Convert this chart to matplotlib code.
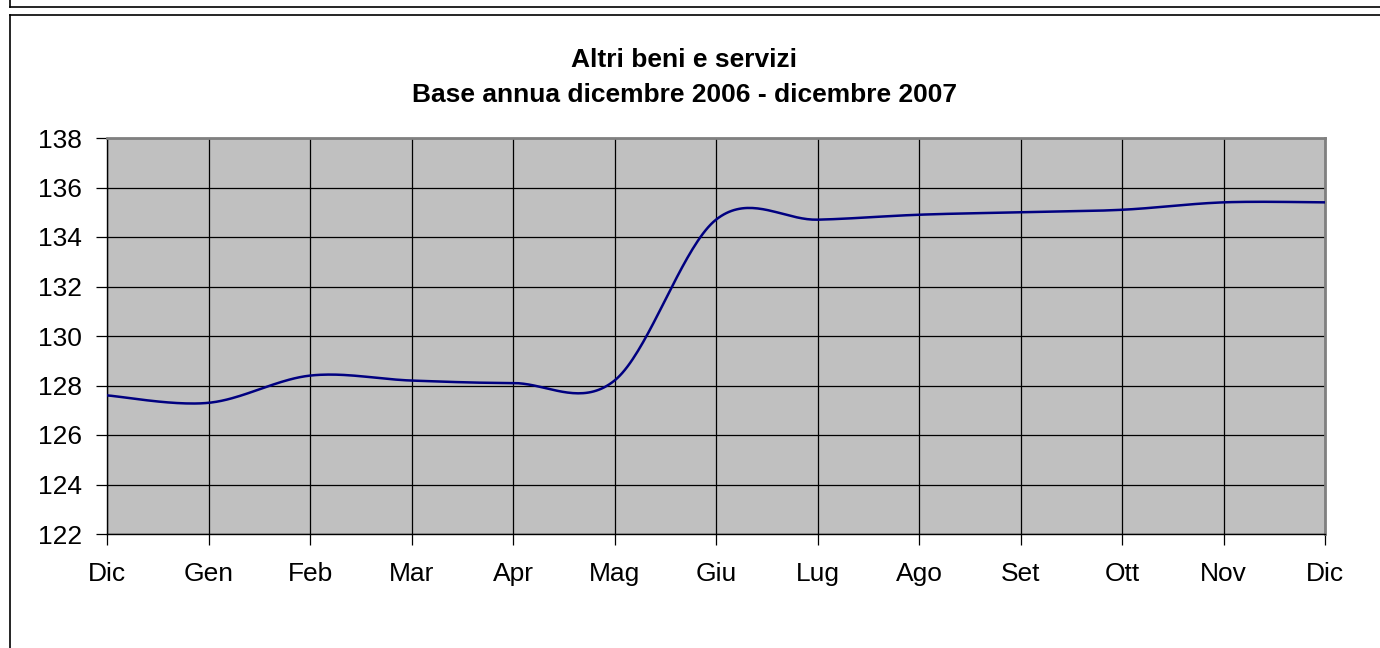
import matplotlib.pyplot as plt
import numpy as np
from matplotlib.lines import Line2D

plt.rcParams['font.family'] = ['Liberation Sans', 'DejaVu Sans']

# Altri beni e servizi - indici mensili, base dicembre 2006
mesi = ['Dic', 'Gen', 'Feb', 'Mar', 'Apr', 'Mag', 'Giu', 'Lug', 'Ago', 'Set', 'Ott', 'Nov', 'Dic']
indice = [127.6, 127.3, 128.4, 128.2, 128.1, 128.2, 134.7, 134.7, 134.9, 135.0, 135.1, 135.4, 135.4]
y_ticks = [122, 124, 126, 128, 130, 132, 134, 136, 138]


def smooth_line(xs, ys, n=40):
    # catmull-rom, like the "smoothed line" option of spreadsheet charts
    xs = np.asarray(xs, float)
    ys = np.asarray(ys, float)
    px = np.concatenate([[xs[0]], xs, [xs[-1]]])
    py = np.concatenate([[ys[0]], ys, [ys[-1]]])
    out_x, out_y = [], []
    for i in range(1, len(px) - 2):
        t = np.linspace(0, 1, n)
        mx0 = (px[i + 1] - px[i - 1]) / 2
        mx1 = (px[i + 2] - px[i]) / 2
        my0 = (py[i + 1] - py[i - 1]) / 2
        my1 = (py[i + 2] - py[i]) / 2
        h00 = 2 * t**3 - 3 * t**2 + 1
        h10 = t**3 - 2 * t**2 + t
        h01 = -2 * t**3 + 3 * t**2
        h11 = t**3 - t**2
        out_x.append(h00 * px[i] + h10 * mx0 + h01 * px[i + 1] + h11 * mx1)
        out_y.append(h00 * py[i] + h10 * my0 + h01 * py[i + 1] + h11 * my1)
    return np.concatenate(out_x), np.concatenate(out_y)


fig = plt.figure(figsize=(13.8, 6.48), dpi=100)
ax = fig.add_axes([107 / 1380, 1 - 534 / 648, 1218 / 1380, 396 / 648])

x = np.arange(len(mesi))
sx, sy = smooth_line(x, indice)
ax.plot(sx, sy, color='#000080', linewidth=1.8, zorder=3)

ax.set_facecolor('#C0C0C0')
ax.set_xlim(0, len(mesi) - 1)
ax.set_ylim(122, 138)
ax.set_xticks(x)
ax.set_xticklabels(mesi)
ax.set_yticks(y_ticks)
ax.grid(True, color='black', linewidth=0.9)
ax.set_axisbelow(True)
ax.tick_params(axis='both', direction='out', length=8, width=0.9, labelsize=19, pad=10)
ax.tick_params(axis='x', pad=12)

for s in ['top', 'right']:
    ax.spines[s].set_color('#808080')
    ax.spines[s].set_linewidth(2)
for s in ['left', 'bottom']:
    ax.spines[s].set_color('black')
    ax.spines[s].set_linewidth(1)

fig.text(684 / 1380, 1 - 60 / 648, 'Altri beni e servizi', ha='center', va='center',
         fontsize=19, fontweight='bold')
fig.text(684 / 1380, 1 - 95 / 648, 'Base annua dicembre 2006 - dicembre 2007', ha='center',
         va='center', fontsize=19, fontweight='bold')

# cornici del foglio
fx = 10 / 1380
fig.add_artist(Line2D([fx, 1], [1 - 7 / 648, 1 - 7 / 648], color='black', linewidth=1.2))
fig.add_artist(Line2D([fx, fx], [1 - 7 / 648, 1], color='black', linewidth=1.2))
fig.add_artist(Line2D([fx, 1], [1 - 15 / 648, 1 - 15 / 648], color='black', linewidth=1.2))
fig.add_artist(Line2D([fx, fx], [0, 1 - 15 / 648], color='black', linewidth=1.2))

fig.savefig('out.png', dpi=100)
